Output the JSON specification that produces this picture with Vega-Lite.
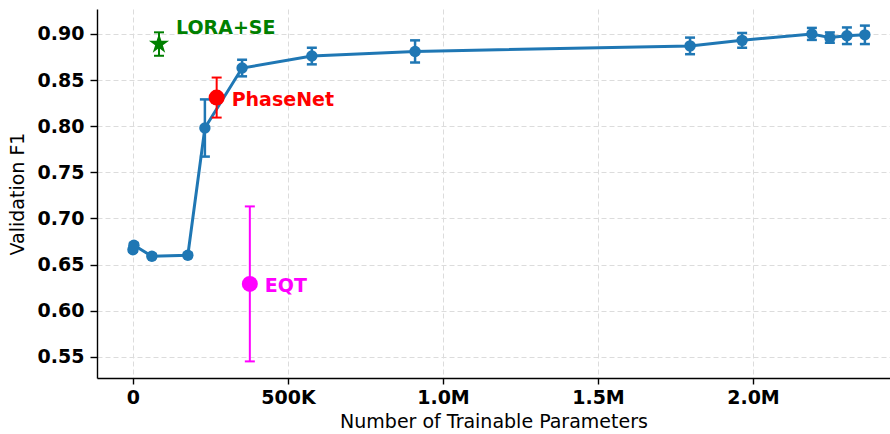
{
  "$schema": "https://vega.github.io/schema/vega-lite/v6.json",
  "width": 793,
  "height": 369,
  "autosize": {"type": "none"},
  "padding": {"left": 97, "top": 9, "right": 0, "bottom": 56},
  "background": "white",
  "config": {
    "view": {"stroke": null},
    "font": "DejaVu Sans",
    "axis": {
      "domainColor": "#000000",
      "domainWidth": 1.4,
      "tickColor": "#000000",
      "tickWidth": 1.4,
      "tickSize": 7,
      "labelFont": "DejaVu Sans",
      "labelFontWeight": "bold",
      "labelFontSize": 19,
      "labelColor": "#000000",
      "titleFont": "DejaVu Sans",
      "titleFontWeight": "normal",
      "titleFontSize": 19,
      "titleColor": "#000000",
      "gridColor": "#dcdcdc",
      "gridDash": [5, 3],
      "gridWidth": 1
    }
  },
  "datasets": {
    "runs": [
      {"group": "Adapter", "params": 0, "f1": 0.666, "err": 0.002},
      {"group": "Adapter", "params": 3000, "f1": 0.671, "err": 0.002},
      {"group": "Adapter", "params": 61000, "f1": 0.659, "err": 0.002},
      {"group": "Adapter", "params": 177000, "f1": 0.66, "err": 0.002},
      {"group": "Adapter", "params": 232000, "f1": 0.798, "err": 0.031},
      {"group": "Adapter", "params": 352000, "f1": 0.863, "err": 0.009},
      {"group": "Adapter", "params": 577000, "f1": 0.876, "err": 0.009},
      {"group": "Adapter", "params": 910000, "f1": 0.881, "err": 0.012},
      {"group": "Adapter", "params": 1797000, "f1": 0.887, "err": 0.009},
      {"group": "Adapter", "params": 1965000, "f1": 0.893, "err": 0.008},
      {"group": "Adapter", "params": 2190000, "f1": 0.9, "err": 0.0065},
      {"group": "Adapter", "params": 2248000, "f1": 0.896, "err": 0.0056},
      {"group": "Adapter", "params": 2303000, "f1": 0.898, "err": 0.009},
      {"group": "Adapter", "params": 2361000, "f1": 0.899, "err": 0.01}
    ],
    "baselines": [
      {"group": "PhaseNet", "label": "PhaseNet", "params": 270000, "f1": 0.831, "err": 0.0217},
      {"group": "EQT", "label": "EQT", "params": 377000, "f1": 0.629, "err": 0.084},
      {"group": "LORA+SE", "label": "LORA+SE", "params": 84000, "f1": 0.889, "err": 0.0127}
    ]
  },
  "encoding": {
    "x": {
      "field": "params",
      "type": "quantitative",
      "title": "Number of Trainable Parameters",
      "scale": {"domain": [-116000, 2442000], "nice": false, "zero": false},
      "axis": {
        "values": [0, 500000, 1000000, 1500000, 2000000],
        "labelExpr": "datum.value == 0 ? '0' : (datum.value < 1000000 ? format(datum.value / 1000, 'd') + 'K' : format(datum.value / 1000000, '.1f') + 'M')",
        "tickSize": 6,
        "labelPadding": 4,
        "titlePadding": 5,
        "grid": true
      }
    },
    "y": {
      "field": "f1",
      "type": "quantitative",
      "title": "Validation F1",
      "scale": {"domain": [0.527, 0.927], "nice": false, "zero": false},
      "axis": {
        "values": [0.55, 0.6, 0.65, 0.7, 0.75, 0.8, 0.85, 0.9],
        "format": ".2f",
        "labelPadding": 6,
        "titlePadding": 10,
        "grid": true
      }
    },
    "color": {
      "field": "group",
      "type": "nominal",
      "scale": {
        "domain": ["Adapter", "PhaseNet", "EQT", "LORA+SE"],
        "range": ["#1f77b4", "#ff0000", "#ff00ff", "#008000"]
      },
      "legend": null
    }
  },
  "layer": [
    {
      "mark": {"type": "rule", "color": "#222222", "strokeWidth": 1.6},
      "encoding": {"y": {"datum": 0.927, "type": "quantitative"}, "x": null, "color": null}
    },
    {
      "data": {"name": "runs"},
      "mark": {"type": "errorbar", "ticks": {"opacity": 1}, "rule": {"opacity": 1}, "size": 10, "thickness": 2.5},
      "encoding": {"yError": {"field": "err"}}
    },
    {
      "data": {"name": "runs"},
      "mark": {"type": "line", "strokeWidth": 3},
      "encoding": {"order": {"field": "params", "type": "quantitative"}}
    },
    {
      "data": {"name": "runs"},
      "mark": {"type": "point", "shape": "circle", "filled": true, "opacity": 1, "size": 130}
    },
    {
      "data": {"name": "baselines"},
      "mark": {"type": "errorbar", "ticks": {"opacity": 1}, "rule": {"opacity": 1}, "size": 10, "thickness": 2},
      "encoding": {"yError": {"field": "err"}}
    },
    {
      "data": {"name": "baselines"},
      "transform": [{"filter": "datum.group != 'LORA+SE'"}],
      "mark": {"type": "point", "shape": "circle", "filled": true, "opacity": 1, "size": 256}
    },
    {
      "data": {"name": "baselines"},
      "transform": [{"filter": "datum.group == 'LORA+SE'"}],
      "mark": {
        "type": "point",
        "shape": "M0,-1L0.2245,-0.309L0.951,-0.309L0.363,0.118L0.588,0.809L0,0.382L-0.588,0.809L-0.363,0.118L-0.951,-0.309L-0.2245,-0.309Z",
        "filled": true,
        "opacity": 1,
        "size": 450
      }
    },
    {
      "data": {"name": "baselines"},
      "transform": [{"filter": "datum.group != 'LORA+SE'"}],
      "mark": {"type": "text", "align": "left", "baseline": "middle", "dx": 15, "dy": 2, "font": "DejaVu Sans", "fontWeight": "bold", "fontSize": 19},
      "encoding": {"text": {"field": "label"}}
    },
    {
      "data": {"name": "baselines"},
      "transform": [{"filter": "datum.group == 'LORA+SE'"}],
      "mark": {"type": "text", "align": "left", "baseline": "middle", "dx": 17, "dy": -16, "font": "DejaVu Sans", "fontWeight": "bold", "fontSize": 19},
      "encoding": {"text": {"field": "label"}}
    }
  ]
}
